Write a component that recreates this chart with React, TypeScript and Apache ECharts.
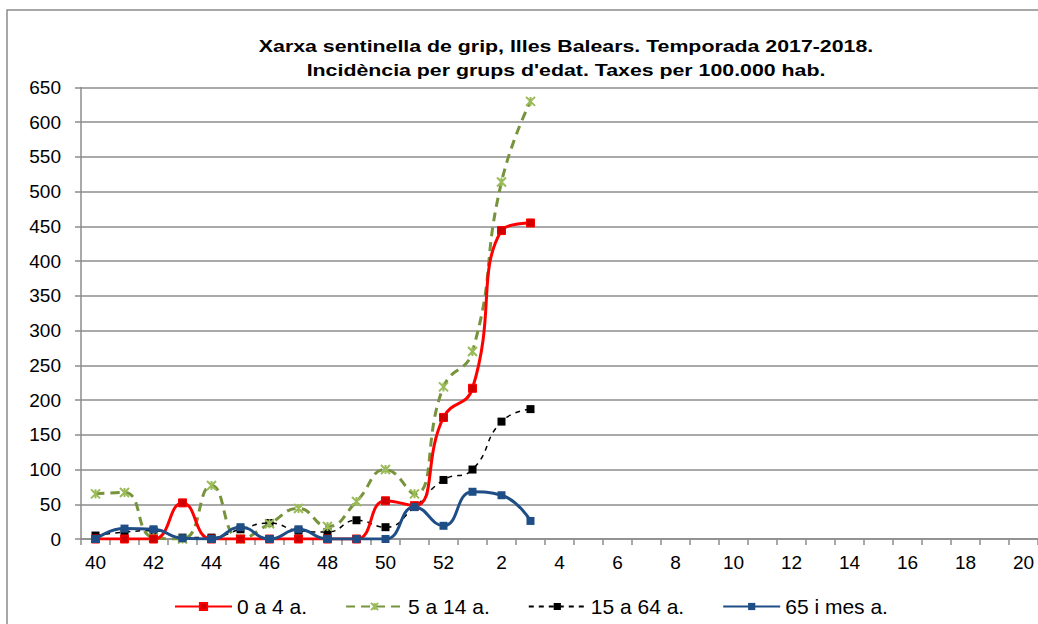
import React, { useEffect, useRef } from "react";
import * as echarts from "echarts";

const weeks = [
  "40", "41", "42", "43", "44", "45", "46", "47", "48", "49", "50", "51", "52",
  "1", "2", "3", "4", "5", "6", "7", "8", "9", "10", "11", "12", "13", "14", "15", "16", "17", "18", "19", "20",
];
const seriesNames = ["0 a 4 a.", "5 a 14 a.", "15 a 64 a.", "65 i mes a."];
const age0to4 = [0, 0, 0, 52, 0, 0, 0, 0, 0, 0, 55, 48, 175, 217, 444, 455];
const age5to14 = [65, 67, 2, 0, 77, 0, 22, 44, 18, 54, 100, 65, 219, 270, 514, 630];
const age15to64 = [5, 10, 12, 2, 2, 14, 23, 12, 10, 27, 17, 46, 85, 100, 169, 187];
const age65plus = [0, 15, 14, 1, 0, 17, 0, 14, 0, 0, 0, 46, 19, 68, 63, 26];
const titleLines = [
  "Xarxa sentinella de grip, Illes Balears. Temporada 2017-2018.",
  "Incidència per grups d'edat. Taxes per 100.000 hab.",
];

const FONT = "'Liberation Sans', Arial, sans-serif";
const STAR = "path://M0,0L10,10M10,0L0,10M5,0L5,10";

export default function App() {
  const ref = useRef<HTMLDivElement>(null);
  useEffect(() => {
    if (!ref.current) return;
    const chart = echarts.init(ref.current, undefined, { renderer: "svg" });
    chart.setOption({
      animation: false,
      backgroundColor: "#ffffff",
      textStyle: { fontFamily: FONT },
      graphic: [
        {
          type: "rect",
          shape: { x: 7, y: 10, width: 1200, height: 800 },
          style: { fill: "none", stroke: "#8c8c8c", lineWidth: 1.5 },
          silent: true,
        },
        {
          type: "text",
          x: 566,
          y: 46,
          scaleX: 1.255,
          style: {
            text: titleLines[0],
            font: `bold 17px ${FONT}`,
            fill: "#000",
            align: "center",
            verticalAlign: "middle",
          },
        },
        {
          type: "text",
          x: 566,
          y: 70,
          scaleX: 1.255,
          style: {
            text: titleLines[1],
            font: `bold 17px ${FONT}`,
            fill: "#000",
            align: "center",
            verticalAlign: "middle",
          },
        },
      ],
      grid: { left: 81, top: 87.5, width: 957.5, height: 451.5, containLabel: false },
      legend: {
        left: 169,
        top: 591,
        itemWidth: 57,
        itemHeight: 9,
        itemGap: 38,
        textStyle: { fontSize: 21, color: "#000", fontFamily: FONT },
        data: seriesNames,
      },
      xAxis: {
        type: "category",
        data: weeks,
        boundaryGap: true,
        axisLine: { lineStyle: { color: "#8c8c8c", width: 1.5 } },
        axisTick: { show: true, interval: 0, length: 6, lineStyle: { color: "#8c8c8c", width: 1.5 } },
        axisLabel: { interval: 1, fontSize: 19, color: "#000", margin: 14, fontFamily: FONT },
        splitLine: { show: false },
      },
      yAxis: {
        type: "value",
        min: 0,
        max: 650,
        interval: 50,
        axisLine: { show: true, lineStyle: { color: "#8c8c8c", width: 1.5 } },
        axisTick: { show: true, length: 6, lineStyle: { color: "#8c8c8c", width: 1.5 } },
        axisLabel: { fontSize: 19, color: "#000", margin: 20, fontFamily: FONT },
        splitLine: { lineStyle: { color: "#8c8c8c", width: 1.5 } },
      },
      series: [
        {
          name: seriesNames[0],
          type: "line",
          data: age0to4,
          smooth: 0.5,
          symbol: "rect",
          symbolSize: 8,
          lineStyle: { color: "#ff0000", width: 3 },
          itemStyle: { color: "#d00000", borderColor: "#ff0000", borderWidth: 1 },
          z: 4,
        },
        {
          name: seriesNames[1],
          type: "line",
          data: age5to14,
          smooth: 0.5,
          symbol: STAR,
          symbolSize: 9,
          symbolKeepAspect: true,
          lineStyle: { color: "#77933c", width: 3, type: [9, 6] },
          itemStyle: { color: "none", borderColor: "#9bbb59", borderWidth: 2 },
          z: 3,
        },
        {
          name: seriesNames[2],
          type: "line",
          data: age15to64,
          smooth: 0.5,
          symbol: "rect",
          symbolSize: 8,
          lineStyle: { color: "#000000", width: 1.5, type: [5, 5] },
          itemStyle: { color: "#000000" },
          z: 2,
        },
        {
          name: seriesNames[3],
          type: "line",
          data: age65plus,
          smooth: 0.5,
          symbol: "rect",
          symbolSize: 8,
          lineStyle: { color: "#1f4e86", width: 3 },
          itemStyle: { color: "#1f4e86" },
          z: 5,
        },
      ],
    });
    return () => chart.dispose();
  }, []);
  return (
    <div
      ref={ref}
      style={{ position: "fixed", left: 0, top: 0, width: 1038, height: 624 }}
    />
  );
}
